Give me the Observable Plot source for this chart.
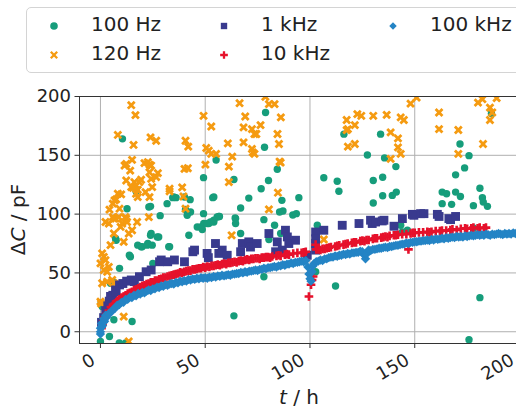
<!DOCTYPE html>
<html><head><meta charset="utf-8">
<script src="https://cdn.jsdelivr.net/npm/d3@7"></script>
<script src="https://cdn.jsdelivr.net/npm/@observablehq/plot@0.6"></script>
<style>
html,body{margin:0;padding:0;overflow:hidden;background:#fff;width:516px;height:408px}
#header{position:relative;height:80px;width:516px}
#legend{position:absolute;left:26px;top:7px;width:520px;height:66px;border:1px solid #d4d4d4;border-radius:5px;box-sizing:border-box;background:#fff}
.lt{position:absolute;font:20px "DejaVu Sans";color:#222;line-height:20px;white-space:nowrap}
.lm{position:absolute;overflow:visible}
#chart{width:530px}
#chart svg{display:block;max-width:none !important;height:328px !important}
</style></head><body>
<div id="header"><div id="legend"></div></div>
<div id="chart"></div>
<script>
// ---- data (t in h, ΔC in pF) ----
const seriesNames = ["100 Hz", "120 Hz", "1 kHz", "10 kHz", "100 kHz"];
const xTicks = [0, 50, 100, 150, 200];
const yTicks = [0, 50, 100, 150, 200];

const hz100 = [[10.5,164],[55.2,146],[49.2,131],[63.7,129.4],[78.8,186.4],[78.3,156.8],[84.4,138.2],[80.2,128.6],[76.7,121.6],[70.8,113.6],[66.9,105.2],[53.6,114],[34.5,114],[36.1,114],[40.1,114.5],[42.8,112.3],[31.8,108.9],[23.9,106.6],[17,119.5],[12.7,104.6],[28.5,98.7],[40.6,104],[43,101.8],[49.2,100.4],[56.8,98],[64.3,96.7],[78,95.3],[86.6,111.7],[87.1,102.6],[85.5,101.8],[91.8,99.2],[93.5,100.4],
[24.2,83.5],[22.6,75],[19.4,72.2],[17.8,73.6],[13.8,65.1],[25,58.1],[33,72.2],[9.1,53.9],[7.5,77.8],[5.9,42.6],[0.3,24.3],[4.3,-4],
[23.1,106],[23.9,82],[27.8,80.6],[32.6,72.2],[35,114.5],[41.4,99],[42.2,82],[46.2,89],[47.8,89],[49.3,92],[51.7,92],[54.1,93.3],[54.1,114.5],[55.7,97.5],[7.2,79.3],[4.8,41.2],[0.8,21.4],[6.4,10.2],[14.3,63.7],[19.9,72.2],[22.3,73.6],[24.7,73.6],[27.1,80.6],[15.1,8.7],[0,-8.2],[9,-9.5],[12,-9.5],
[94.7,114],[64.5,96.2],[64.5,92],[56.5,98],[54.1,94.8],[52.5,93.3],[51,92],[48.6,86.9],[66.9,83.5],[86,83.5],[78,46.8],[63.7,13.5],[103.5,90.5],[102.7,51],[106.6,130.9],[113,128],[113.8,119.5],[116.2,168],[112.2,38.9],
[133.7,168],[127.4,150.3],[135.6,147.8],[141,140.4],[130.2,128.6],[134.7,131.4],[134.7,115.6],[139.3,115.9],[141.2,118.7],[130.2,109.4],[171.6,159.6],[175.9,149.7],[173.8,139.3],[169.5,133.4],[163.1,118.7],[165.2,117.3],[169.5,118.7],[171.8,115],[163.1,108.9],[167.6,108.3],[181.1,122],[182.3,114],[182.7,110.2],[178,107.2],[184.7,106.6],[186.6,185.5],[143.3,90.5],[146.5,86.3],[175.9,-6.8],[181.1,29],[178,88.2],[83.1,90.5],[80.4,78.4],[144.1,84.8]];

const hz120 = [[14.7,192.6],[16.7,184.2],[8.3,167.3],[15.8,158.8],[23.9,165.2],[26.6,162.4],[40.6,162.4],[41.9,157.4],[49.2,183.6],[52.9,174.5],[66.4,194.3],[69.1,183],[68.3,173.7],[72.3,172.3],[73.5,168.1],[74.4,168.1],[76.4,175.7],[78.7,199.7],[80.4,193.5],[83.1,193.5],[86.1,182.2],[84.5,168.1],[85.2,159.6],[60.8,160.2],[68.3,161],[72.3,155.4],[72.7,152.5],[73.5,151.2],[50.5,156.2],[51.7,154],[52.9,151.2],[55.2,151.2],[62.9,148.9],[61.3,140.4],[50.1,142.1],[85.5,144.7],[86,143.8],[61.3,127.2],[84.7,118.2],[80.4,104],
[11.5,141.3],[12.3,142.7],[15.1,146.1],[14.2,137],[21,143.3],[22.6,144.1],[23.4,142.1],[24.2,141.3],[23.4,135.6],[27.4,134.8],[26.6,131.4],[24.2,130],[40.1,138.5],[41.7,139],[12.3,128.6],[16.2,127.2],[17,124.4],[18.6,127.2],[19.4,129.2],[14.7,122.9],[15.5,122.4],[17.8,120.7],[17,117.3],[17.8,114.5],[21.5,118.7],[23.4,114.5],[24.7,122.9],[33,121.6],[33,119.3],[39,122.7],[39.6,115],[8.3,117.3],[9.9,116.8],[5.9,108.9],[6.7,111.7],[7.5,112.5],[4.3,103.8],[9.1,104.6],[5.9,97.5],[7.2,96.2],[12.3,96.2],[23.1,97.5],[40.6,104.6],
[0.8,66.6],[1.6,63.7],[2.4,60.9],[0,58.1],[1.6,52.5],[3.2,51],[4,55.2],[4.8,73.6],[0.8,41.2],[3.2,42.6],[5.6,44],[6.4,41.2],[0,25.6],[0.3,24],[11.1,12.9],[13.5,-8.2],[2.4,93.3],[4,92],[6.4,83.5],[9.6,89.1],[10.4,92],[6.4,96.2],[8.7,97.5],[11.9,97.5],[12.7,93.3],[15.1,86.3],[13.5,83.5],[11.1,76.4],[17.5,93.3],
[117.5,180],[122.6,185],[124.5,183.6],[130.2,183.6],[136.6,184.4],[143.3,182.2],[144.8,180],[121.4,175.7],[117.5,171.4],[118.1,172.3],[138.5,169.5],[142,164.4],[121.4,159.6],[118.1,157.4],[142,156.8],[143.3,151.2],[138.5,147],[148,194],[150.9,199],[161.6,186.4],[161.6,172.3],[170.8,171.5],[180.2,194.8],[182.3,197.7],[185.9,190.6],[187,186.4],[185.9,180],[189.1,198.6],[182.6,159.6],[170.8,151.2],[62.6,82],[106.6,78.4]];

const khz1 = [[0.5,8],[1.5,12],[2.5,18],[3.5,22],[4.2,26],[4.8,30],[5.9,31],[7.2,35.5],[7.5,34],[9.1,39.8],[10.7,41],[12.5,43],[14.7,44],[16.2,42.6],[18.6,46.8],[21.8,51],[24.2,52.5],[28.2,59.5],[29,61],[32.1,59.5],[35.3,61],[40.1,59.5],[44.1,68],[44.9,69.4],[50.9,66.6],[51.5,63],[54.9,75],[56.5,66.6],[58.1,69.4],[60.5,65],[66.9,68],[67.7,75],[70.8,76.4],[71.6,72],[74.8,75],[80.4,83.5],[83.6,68],[84.4,76.4],[86.8,69.4],[88.3,86.3],[89.2,80.6],[89.9,75],[93.1,77.8],[98.7,65],[102.7,84.8],[102.7,79],[102.7,75],[102.7,69.4],[106.6,86.3],[115.4,90.5],[123.4,92],[128.9,94.8],[129.7,92],[131.3,93.3],[134.5,94.2],[135.3,94.8],[140.1,89.7],[144.1,96.2],[148.9,99.8],[149.6,99],[152.8,100.4],[154.4,100.4],[160.8,99.8],[161.6,98],[166.3,96.2],[167.1,95.3],[169.5,98]];

const khz10 = [[0.5,3],[1,6],[1.5,9],[2,12],[3,15],[4,18],[5,21],[6,23],[7,24],[8,26],[9,27.5],[10,29],[11,30],[12,31],[13,32.5],[14,33],[15,34],[16,35.5],[17,36],[18,37],[19,38],[20,39],[21,39.5],[22,40.5],[23,41],[24,42],[25,42],[26,43.5],[27,43.5],[28,44.5],[29,45],[30,46],[31,46],[32,47],[33,47.5],[34,48],[35,48.5],[36,49],[37,49.5],[38,50.5],[39,50],[40,51],[41,51.5],[42,52],[43,52],[44,53],[45,53],[46,53.5],[47,54],[48,54],[49,55],[50,54.5],[51,55.5],[52,55],[53,56],[54,56],[55,56.5],[56,57],[57,56.5],[58,57.5],[59,58],[60,57.5],[61,58.5],[62,58.5],[63,59],[64,59.5],[65,59],[66,60],[67,60.5],[68,60],[69,61],[70,61.5],[71,61],[72,62],[73,62],[74,62.5],[75,62.5],[76,62],[77,63],[78,63],[79,63.5],[80,63.5],[81,63],[82,64],[84,64.5],[85,65],[86,64.5],[88,65.5],[89,66],[90,65.5],[92,66.5],[94,67],[96,67],[97,67.5],[98,68],
[99.5,30],[100.5,40],[101,44],[101.5,47],[102.7,74],[103,70],[104,70],[105,69.5],[106,70.5],[107,70.5],[108,71],[109,71.5],[110,72],[112,72.5],[113,73],[114,73.5],[116,74],[117,74.5],[118,75],[120,75.5],[121,76],[122,76],[124,77],[125,77.5],[126,77],[127,78],[128,78],[130,79],[131,79.5],[132,79.5],[134,80],[135,80.5],[136,81],[137,80.5],[138,81.5],[140,82],[141,82],[142,82.5],[144,83],[146,83],[147,70],[148,83.5],[149,84],[150,84],[152,84.5],[154,84.5],[156,85],[157,84.5],[158,85],[160,85.5],[162,85.5],[163,86],[165,86],[167,86.5],[168,87],[170,86.5],[172,87.5],[174,88],[175,87.5],[177,88],[178,88.5],[180,88],[181,88.5],[183,88],[184,88.5]];

const khz100 = [[0,-2],[0,0],[0,3],[0.5,4],[0.5,7],[1,5],[1.5,8],[1.5,11],[2,9],[2.5,12],[2.5,14],[3,12.5],[4,15.5],[5,16.5],[6,19],[7,20],[8,22.5],[9,23],[10,25],
[11,25],[12,27.5],[13,27.5],[14,29.5],[15,29],[16,31],[17,30.5],[18,32.5],[19,32],[20,33.5],
[21,33],[22,34.5],[23,35.5],[24,35],[25,36.5],[26,36.5],[27,38],[28,37.5],[29,39],[30,38.5],
[31,40],[32,39.5],[33,40.5],[34,41],[35,40.5],[36,42],[37,41.5],[38,43],[39,42.5],[40,43.5],
[41,43],[42,44.5],[43,44],[44,45],[45,44.5],[46,45.5],[47,45],[48,46],[49,45.5],[50,46],
[51,45.5],[52,46.5],[53,46],[54,47],[55,46.5],[56,47.5],[57,47],[58,48],[59,47.5],[60,48],
[61,48.5],[62,48],[63,49],[64,49],[65,49.5],[66,49.5],[67,50.5],[68,50],[69,51],[70,50.5],
[71,51.5],[72,51.5],[73,52],[74,52.5],[75,52],[76,53],[77,53],[78,54],[79,53.5],[80,54.5],
[81,54.5],[82,55],[83,55.5],[84,55],[85,56],[86,56],[87,57],[88,56.5],[89,57.5],[90,57.5],
[91,58.5],[92,58],[93,59],[94,59],[95,59.5],[96,60],[97,59.5],[98,60.5],
[99,55],[99.5,49],[100,45],[100.5,43],[101,51],[101.5,56],
[102,58],[103,59.5],[104,60],[105,61],[106,60.5],[107,62],[108,62],[109,63],[110,63.5],
[111,63.5],[112,64.5],[113,64],[114,65],[115,65],[116,66],[117,65.5],[118,66.5],[119,66],[120,67],
[121,67],[122,67.5],[123,67.5],[124,68.5],[125,68],[126,65],[126.5,62],[127,66],[128,69.5],[129,69],[130,70],
[131,70],[132,70.5],[133,71],[134,71],[135,71.5],[136,72],[137,71.5],[138,72.5],[139,72.5],[140,73],
[141,73.5],[142,73.5],[143,74],[144,74.5],[145,74.5],[146,75.5],[147,75],[148,76],[149,76],[150,76.5],
[151,76.5],[152,77],[153,77],[154,77.5],[155,77.5],[156,78],[157,77.5],[158,78.5],[159,78],[160,79],
[161,78.5],[162,79],[163,79.5],[164,79],[165,80],[166,79.5],[167,80],[168,80.5],[169,80],[170,81],
[171,80.5],[172,81],[173,80.5],[174,81.5],[175,81],[176,81.5],[177,82],[178,81.5],[179,82],[180,82.5],
[181,82],[182,82.5],[183,82],[184,83],[185,82.5],[186,82],[187,83],[188,82.5],[189,83],[190,83.5],
[191,83],[192,82.5],[193,83.5],[194,83],[195,83.5],[196,83],[197,84],[198,83.5],[199,83],[200,84]];

// ---- styles ----
const colors = ["#169d7b", "#f59b11", "#393a8e", "#e6112b", "#2484c5"];
const symbols = ["circle", "times", "square", "plus", "diamond2"];
const radii = [3.7, 3.2, 5.0, 2.9, 4.2];
const strokeW = [0, 2.8, 0, 2.6, 0];
const filled = [true, false, true, false, true];
const allData = [hz100, hz120, khz1, khz10, khz100];

function dotMark(data, i) {
  const o = {x: d => d[0], y: d => d[1], r: radii[i], symbol: symbols[i], clip: true};
  if (filled[i]) { o.fill = colors[i]; o.stroke = "none"; }
  else { o.fill = "none"; o.stroke = colors[i]; o.strokeWidth = strokeW[i]; }
  return Plot.dot(data, o);
}

const W = 530, H = 328;
const chart = Plot.plot({
  width: W, height: H,
  marginLeft: 79, marginRight: 11, marginTop: 16, marginBottom: 65,
  x: {domain: [-10, 200]},
  y: {domain: [-10, 200]},
  style: {fontFamily: "DejaVu Sans", fontSize: "18px", color: "#222", background: "transparent", maxWidth: "none"},
  marks: [
    Plot.gridX(xTicks, {stroke: "#b0b0b0", strokeOpacity: 1, strokeWidth: 1}),
    Plot.gridY(yTicks, {stroke: "#b0b0b0", strokeOpacity: 1, strokeWidth: 1}),
    ...allData.map((d, i) => dotMark(d, i)),
    Plot.frame({stroke: "#333", strokeWidth: 1}),
    Plot.axisX(xTicks, {tickSize: 5, tickFormat: () => "", label: null, stroke: "#333"}),
    Plot.axisX(xTicks, {tickSize: 0, tickPadding: 9, tickRotate: -30, fontSize: 18, label: null, dx: -7, dy: 6}),
    Plot.axisY(yTicks, {tickSize: 4.5, tickPadding: 4, fontSize: 18, label: null, stroke: "#333"})
  ]
});
chart.style.maxWidth = "none";
chart.style.width = W + "px";
chart.style.height = H + "px";
document.getElementById("chart").appendChild(chart);

// axis titles
const svg = d3.select(chart);
const xr = chart.scale("x").range, yr = chart.scale("y").range;
const xt = svg.append("text").attr("x", (xr[0] + xr[1]) / 2).attr("y", 324)
  .attr("text-anchor", "middle").attr("font-family", "DejaVu Sans").attr("font-size", 20).attr("fill", "#222");
xt.append("tspan").attr("font-style", "italic").text("t");
xt.append("tspan").text(" / h");
const yt = svg.append("text").attr("transform", `translate(24.5,${(yr[0] + yr[1]) / 2}) rotate(-90)`)
  .attr("text-anchor", "middle").attr("font-family", "DejaVu Sans").attr("font-size", 20).attr("fill", "#222");
yt.append("tspan").text("Δ");
yt.append("tspan").attr("font-style", "italic").text("C");
yt.append("tspan").text(" / pF");

// legend (column-wise, 3 columns)
const leg = document.getElementById("legend");
const mx = [27, 197, 366], tx = [64, 234, 403], my = [18, 47];
const legendSizes = [3.8, 3.0, 3.6, 2.6, 3.4];
seriesNames.forEach((name, i) => {
  const col = Math.floor(i / 2), row = i % 2;
  const s = d3.create("svg").attr("class", "lm").attr("width", 14).attr("height", 14)
    .style("left", (mx[col] - 7) + "px").style("top", (my[row] - 7) + "px");
  const r = legendSizes[i];
  const sym = {circle: d3.symbolCircle, times: d3.symbolTimes, square: d3.symbolSquare, plus: d3.symbolPlus, diamond2: d3.symbolDiamond2}[symbols[i]];
  const p = s.append("path").attr("transform", "translate(7,7)").attr("d", d3.symbol(sym, Math.PI * r * r)());
  if (filled[i]) p.attr("fill", colors[i]);
  else p.attr("fill", "none").attr("stroke", colors[i]).attr("stroke-width", 2.3);
  leg.appendChild(s.node());
  const t = document.createElement("div");
  t.className = "lt";
  t.style.left = tx[col] + "px";
  t.style.top = (my[row] - 12) + "px";
  t.textContent = name;
  leg.appendChild(t);
});
</script></body></html>
